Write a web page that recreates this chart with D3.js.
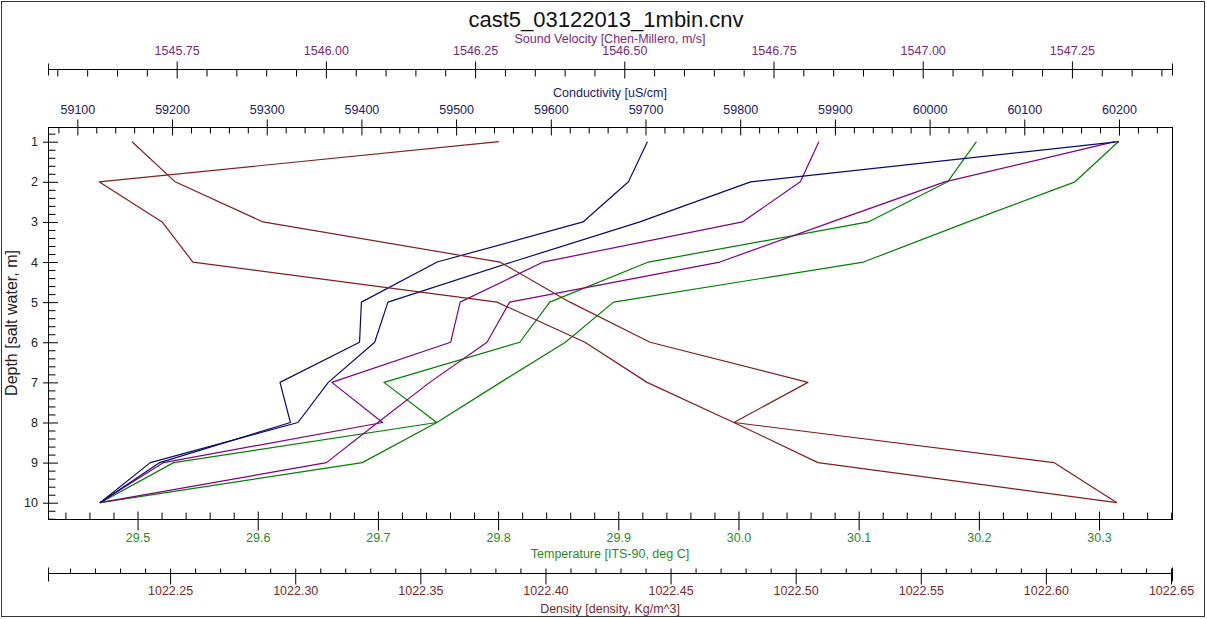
<!DOCTYPE html>
<html><head><meta charset="utf-8">
<script src="https://cdn.jsdelivr.net/npm/d3@7"></script>
<style>
body{margin:0;background:#fff}
svg{display:block}
text{font-family:"Liberation Sans",Arial,sans-serif}
</style>
</head><body>
<svg id="chart" width="1207" height="619"></svg>
<script>
// ---- data ----
const depths = [1, 2, 3, 4, 5, 6, 7, 8, 9, 10];
const conductivityA = [59702, 59682, 59634, 59480, 59400, 59398, 59314, 59325, 59187, 59124];
const conductivityB = [60200, 59811, 59694, 59559, 59428, 59414, 59365, 59333, 59177, 59124];
const soundVelocityA = [1546.826, 1546.795, 1546.698, 1546.364, 1546.225, 1546.209, 1546.010, 1546.095, 1545.728, 1545.621];
const soundVelocityB = [1547.322, 1547.037, 1546.848, 1546.660, 1546.308, 1546.270, 1546.174, 1546.087, 1546.001, 1545.621];
const temperatureA = [30.198, 30.174, 30.108, 29.925, 29.843, 29.818, 29.705, 29.749, 29.530, 29.469];
const temperatureB = [30.316, 30.280, 30.191, 30.104, 29.896, 29.856, 29.802, 29.749, 29.687, 29.469];
const densityA = [1022.3814, 1022.2216, 1022.2468, 1022.2591, 1022.3806, 1022.4158, 1022.4406, 1022.4753, 1022.5089, 1022.6284];
const densityB = [1022.2348, 1022.2520, 1022.2871, 1022.3818, 1022.4098, 1022.4418, 1022.5049, 1022.4753, 1022.6032, 1022.6284];

const soundTicks = [1545.75, 1546.00, 1546.25, 1546.50, 1546.75, 1547.00, 1547.25];
const conductivityTicks = [59100, 59200, 59300, 59400, 59500, 59600, 59700, 59800, 59900, 60000, 60100, 60200];
const temperatureTicks = [29.5, 29.6, 29.7, 29.8, 29.9, 30.0, 30.1, 30.2, 30.3];
const densityTicks = [1022.25, 1022.30, 1022.35, 1022.40, 1022.45, 1022.50, 1022.55, 1022.60, 1022.65];
const depthTicks = depths;

const titleText = "cast5_03122013_1mbin.cnv";
const soundTitle = "Sound Velocity [Chen-Millero, m/s]";
const conductivityTitle = "Conductivity [uS/cm]";
const temperatureTitle = "Temperature [ITS-90, deg C]";
const densityTitle = "Density [density, Kg/m^3]";
const depthTitle = "Depth [salt water, m]";

// ---- layout ----
const L = 48, R = 1172, T = 127, B = 519;
const colors = {
  sound: "#800080", cond: "#0a0a6e", temp: "#008000", dens: "#802020"
};
const labelColors = {
  sound: "#7a2a7a", cond: "#20206a", temp: "#2a8a2a", dens: "#7a2a2a"
};

const svg = d3.select("#chart");
svg.append("rect").attr("x", 0).attr("y", 0).attr("width", 1207).attr("height", 619).attr("fill", "#fff");
svg.append("rect").attr("x", 1.5).attr("y", 1.5).attr("width", 1203).attr("height", 615)
  .attr("fill", "none").attr("stroke", "#333").attr("stroke-width", 1);

// ---- scales ----
const yDepth = d3.scaleLinear().domain([0.6335, 10.406]).range([T, B]);
const xSound = d3.scaleLinear().domain([1545.5344, 1547.4177]).range([L, R]);
const xCond = d3.scaleLinear().domain([59069, 60256]).range([L, R]);
const xTemp = d3.scaleLinear().domain([29.4255, 30.3607]).range([L, R]);
const xDens = d3.scaleLinear().domain([1022.2012, 1022.6504]).range([L, R]);

function multiples(scale, step) {
  const [a, b] = scale.domain();
  const out = [];
  for (let k = Math.ceil(a / step - 1e-9); k <= Math.floor(b / step + 1e-9); k++) out.push(+(k * step).toFixed(6));
  return out;
}

function hAxis(o) {
  const g = svg.append("g").attr("transform", `translate(0,${o.y})`);
  g.append("line").attr("x1", L).attr("x2", R).attr("y1", 0.5).attr("y2", 0.5)
    .attr("stroke", "#000").attr("stroke-width", 1);
  const majorSet = new Set(o.ticks.map(v => v.toFixed(6)));
  const minors = multiples(o.scale, o.minorStep).filter(v => !majorSet.has(v.toFixed(6)));
  const gm = g.append("g").call(d3.axisBottom(o.scale).tickValues(minors).tickFormat("").tickSizeOuter(0));
  gm.select(".domain").remove();
  gm.selectAll(".tick line").attr("y1", -o.minorUp + 0.5).attr("y2", o.minorDown + 0.5).attr("stroke", "#000");
  const gM = g.append("g").call(d3.axisBottom(o.scale).tickValues(o.ticks).tickFormat(o.fmt).tickSizeOuter(0));
  gM.select(".domain").remove();
  gM.selectAll(".tick line").attr("y1", -o.majorUp + 0.5).attr("y2", o.majorDown + 0.5).attr("stroke", "#000");
  gM.selectAll(".tick text").attr("y", o.labelY).attr("dy", 0)
    .attr("fill", o.labelColor).attr("font-size", 12.5)
    .attr("font-family", '"Liberation Sans",Arial,sans-serif');
  if (o.ends) {
    [L, R].forEach(x => g.append("line").attr("x1", x + 0.5).attr("x2", x + 0.5)
      .attr("y1", -o.ends[0] + 0.5).attr("y2", o.ends[1] + 0.5).attr("stroke", "#000"));
  }
  svg.append("text").attr("x", (L + R) / 2).attr("y", o.titleY).attr("text-anchor", "middle")
    .attr("font-size", 12.5).attr("fill", o.labelColor).text(o.title);
}

// Main title
svg.append("text").attr("x", (L + R) / 2 - 4).attr("y", 27).attr("text-anchor", "middle")
  .attr("font-size", 22).attr("fill", "#111").text(titleText);

// Top axes
hAxis({scale: xSound, y: 69, ticks: soundTicks, minorStep: 0.05, fmt: d3.format(".2f"),
  majorUp: 8, majorDown: 9, minorUp: 0, minorDown: 7, labelY: -14, ends: [6, 6],
  labelColor: labelColors.sound, title: soundTitle, titleY: 43});
hAxis({scale: xCond, y: T, ticks: conductivityTicks, minorStep: 20, fmt: d3.format("d"),
  majorUp: 8, majorDown: 8, minorUp: 0, minorDown: 6, labelY: -13,
  labelColor: labelColors.cond, title: conductivityTitle, titleY: 97});

// Bottom axes
hAxis({scale: xTemp, y: B, ticks: temperatureTicks, minorStep: 0.02, fmt: d3.format(".1f"),
  majorUp: 8, majorDown: 11, minorUp: 7, minorDown: 0, labelY: 23,
  labelColor: labelColors.temp, title: temperatureTitle, titleY: 558});
hAxis({scale: xDens, y: 573, ticks: densityTicks, minorStep: 0.01, fmt: d3.format(".2f"),
  majorUp: 5, majorDown: 11, minorUp: 5, minorDown: 0, labelY: 22, ends: [6, 8],
  labelColor: labelColors.dens, title: densityTitle, titleY: 613});

// Depth axis (left) and right frame
const gy = svg.append("g");
gy.append("line").attr("x1", L + 0.5).attr("x2", L + 0.5).attr("y1", T).attr("y2", B + 1).attr("stroke", "#000");
gy.append("line").attr("x1", R + 0.5).attr("x2", R + 0.5).attr("y1", T).attr("y2", B + 1).attr("stroke", "#000");
const depthMinor = multiples(yDepth, 0.2).filter(v => Math.abs(v - Math.round(v)) > 1e-6);
const gyMinor = gy.append("g").attr("transform", `translate(${L},0)`)
  .call(d3.axisLeft(yDepth).tickValues(depthMinor).tickFormat("").tickSizeOuter(0));
gyMinor.select(".domain").remove();
gyMinor.selectAll(".tick line").attr("x1", 0.5).attr("x2", 7.5).attr("stroke", "#000");
const gyMajor = gy.append("g").attr("transform", `translate(${L},0)`)
  .call(d3.axisLeft(yDepth).tickValues(depthTicks).tickFormat(d3.format("d")).tickSizeOuter(0));
gyMajor.select(".domain").remove();
gyMajor.selectAll(".tick line").attr("x1", -5).attr("x2", 10).attr("stroke", "#000");
gyMajor.selectAll(".tick text").attr("x", -10).attr("font-size", 12.5).attr("fill", "#222")
  .attr("font-family", '"Liberation Sans",Arial,sans-serif');
svg.append("text").attr("transform", `translate(17,${(T + B) / 2}) rotate(-90)`)
  .attr("text-anchor", "middle").attr("font-size", 16).attr("fill", "#222").text(depthTitle);

// ---- series lines ----
const plot = svg.append("g");
function drawSeries(values, xs, color) {
  const line = d3.line().x((d, i) => xs(d)).y((d, i) => yDepth(depths[i]));
  plot.append("path").datum(values).attr("d", line).attr("fill", "none")
    .attr("stroke", color).attr("stroke-width", 1.2).attr("stroke-linejoin", "round");
}
drawSeries(temperatureA, xTemp, colors.temp);
drawSeries(temperatureB, xTemp, colors.temp);
drawSeries(soundVelocityA, xSound, colors.sound);
drawSeries(soundVelocityB, xSound, colors.sound);
drawSeries(conductivityA, xCond, colors.cond);
drawSeries(conductivityB, xCond, colors.cond);
drawSeries(densityA, xDens, colors.dens);
drawSeries(densityB, xDens, colors.dens);
</script>
</body></html>
